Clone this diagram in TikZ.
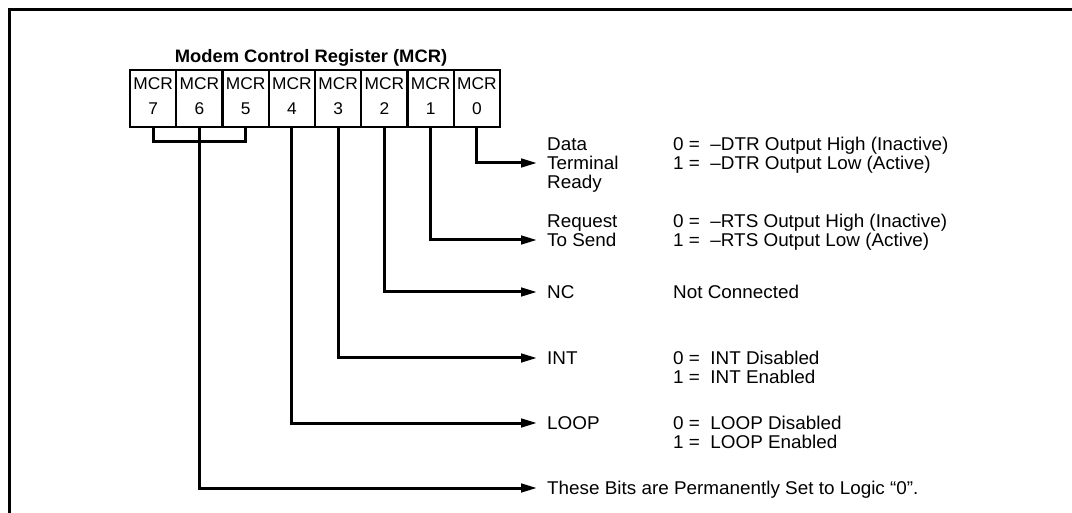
\documentclass[tikz,border=0pt]{standalone}
\usepackage{fontspec}
\setmainfont[FakeStretch=1.02]{Liberation Sans}
\usetikzlibrary{arrows.meta}
\begin{document}
\begin{tikzpicture}[x=1pt,y=-1pt,
  wire/.style={line width=3pt, line join=miter},
  arr/.style={wire, -{Triangle[length=16pt,width=8.5pt]}, shorten >=10pt},
  cell/.style={draw, line width=2.4pt, minimum width=46.25pt, minimum height=57pt, inner sep=0pt, align=center, text depth=5pt, font=\fontsize{17}{17}\selectfont},
  txt/.style={anchor=west, inner sep=0pt, text height=13pt, text depth=0pt, font=\fontsize{18.5}{20}\selectfont},
  ttl/.style={inner sep=0pt, text height=13pt, text depth=0pt, font=\fontsize{18}{20}\selectfont\bfseries},
]
\useasboundingbox (0,0) rectangle (1072,513);
\draw[line width=3pt] (9.5,513) -- (9.5,10) -- (1072,10);

\node[ttl] (title) at (311,56) {Modem Control Register (MCR)};

\node[cell] (b7) at (153.1,98.5) {MCR\\[8pt]7};
\node[cell] (b6) at (199.4,98.5) {MCR\\[8pt]6};
\node[cell] (b5) at (245.6,98.5) {MCR\\[8pt]5};
\node[cell] (b4) at (291.9,98.5) {MCR\\[8pt]4};
\node[cell] (b3) at (338.1,98.5) {MCR\\[8pt]3};
\node[cell] (b2) at (384.4,98.5) {MCR\\[8pt]2};
\node[cell] (b1) at (430.6,98.5) {MCR\\[8pt]1};
\node[cell] (b0) at (476.9,98.5) {MCR\\[8pt]0};

% labels
\node[txt] (lData) at (547,144) {Data};
\node[txt] (lTerm) at (547,163) {Terminal};
\node[txt] (lReady) at (547,182) {Ready};
\node[txt] (lReq) at (547,221) {Request};
\node[txt] (lSend) at (547,240) {To Send};
\node[txt] (lNC) at (547,292) {NC};
\node[txt] (lINT) at (547,358) {INT};
\node[txt] (lLOOP) at (547,423) {LOOP};
\node[txt] (lBits) at (547,488) {These Bits are Permanently Set to Logic ``0''.};

% descriptions
\node[txt] (d0a) at (673,144) {0 =\ \ –DTR Output High (Inactive)};
\node[txt] (d0b) at (673,163) {1 =\ \ –DTR Output Low (Active)};
\node[txt] (d1a) at (673,221) {0 =\ \ –RTS Output High (Inactive)};
\node[txt] (d1b) at (673,240) {1 =\ \ –RTS Output Low (Active)};
\node[txt] (d2) at (673,292) {Not Connected};
\node[txt] (d3a) at (673,358) {0 =\ \ INT Disabled};
\node[txt] (d3b) at (673,377) {1 =\ \ INT Enabled};
\node[txt] (d4a) at (673,423) {0 =\ \ LOOP Disabled};
\node[txt] (d4b) at (673,442) {1 =\ \ LOOP Enabled};

% connectors
\coordinate (br) at (199.4,142);
\draw[wire] (b7.south) |- (br) -| (b5.south);
\draw[wire] (b6.south) -- (br);
\draw[arr] (br) |- (lBits.west);
\draw[arr] (b0.south) |- (lTerm.west);
\draw[arr] (b1.south) |- (lSend.west);
\draw[arr] (b2.south) |- (lNC.west);
\draw[arr] (b3.south) |- (lINT.west);
\draw[arr] (b4.south) |- (lLOOP.west);
\end{tikzpicture}
\end{document}
